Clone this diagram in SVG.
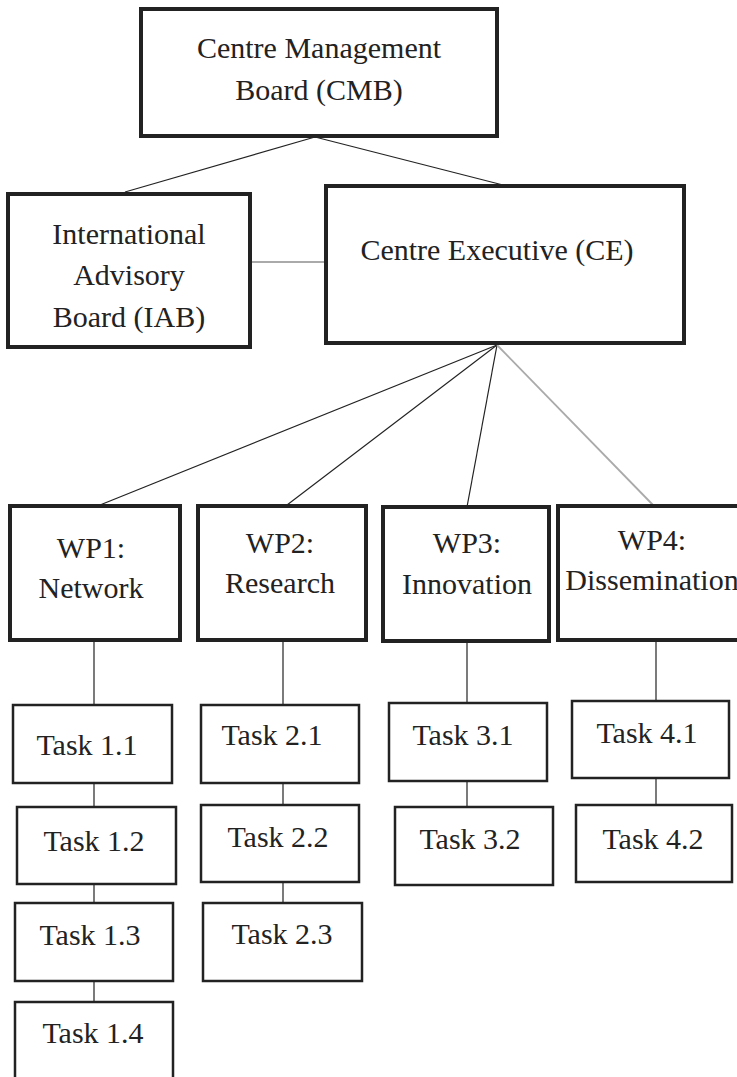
<svg xmlns="http://www.w3.org/2000/svg" width="737" height="1077" viewBox="0 0 737 1077">
<style>
  .bg{fill:#ffffff}
  .big{fill:#ffffff;stroke:#222;stroke-width:4}
  .task{fill:#ffffff;stroke:#222;stroke-width:2.5}
  .t{font-family:"Liberation Serif","Times New Roman",serif;font-size:30px;fill:#222;text-anchor:middle}
  .ln{stroke:#222;stroke-width:1.2;fill:none}
  .gl{stroke:#aaa;stroke-width:1.8;fill:none}
</style>
<rect class="bg" x="0" y="0" width="737" height="1077"/>
<g id="connectors">
  <line class="ln" x1="315" y1="137" x2="125" y2="192"/>
  <line class="ln" x1="315" y1="137" x2="503" y2="185"/>
  <line class="gl" x1="250" y1="262" x2="325" y2="262"/>
  <line class="ln" x1="497" y1="345" x2="100" y2="505"/>
  <line class="ln" x1="497" y1="345" x2="287" y2="505"/>
  <line class="ln" x1="497" y1="345" x2="467" y2="507"/>
  <line class="gl" x1="497" y1="345" x2="653" y2="505"/>
  <line class="ln" x1="94" y1="640" x2="94" y2="705"/>
  <line class="ln" x1="94" y1="783" x2="94" y2="807"/>
  <line class="ln" x1="94" y1="884" x2="94" y2="903"/>
  <line class="ln" x1="94" y1="981" x2="94" y2="1002"/>
  <line class="ln" x1="283" y1="640" x2="283" y2="705"/>
  <line class="ln" x1="283" y1="783" x2="283" y2="805"/>
  <line class="ln" x1="283" y1="882" x2="283" y2="903"/>
  <line class="ln" x1="467" y1="641" x2="467" y2="703"/>
  <line class="ln" x1="467" y1="781" x2="467" y2="807"/>
  <line class="ln" x1="656" y1="640" x2="656" y2="701"/>
  <line class="ln" x1="656" y1="778" x2="656" y2="805"/>
</g>
<g id="cmb">
  <rect class="big" x="141" y="9" width="356" height="127"/>
  <text class="t" x="319" y="58">Centre Management</text>
  <text class="t" x="319" y="100">Board (CMB)</text>
</g>
<g id="iab">
  <rect class="big" x="8" y="194" width="242" height="153"/>
  <text class="t" x="129" y="244">International</text>
  <text class="t" x="129" y="285">Advisory</text>
  <text class="t" x="129" y="327">Board (IAB)</text>
</g>
<g id="ce">
  <rect class="big" x="326" y="186" width="358" height="157"/>
  <text class="t" x="497" y="260">Centre Executive (CE)</text>
</g>
<g id="wp1">
  <rect class="big" x="10" y="506" width="170" height="134"/>
  <text class="t" x="91" y="558">WP1:</text>
  <text class="t" x="91" y="598">Network</text>
</g>
<g id="wp2">
  <rect class="big" x="198" y="506" width="168" height="134"/>
  <text class="t" x="280" y="553">WP2:</text>
  <text class="t" x="280" y="593">Research</text>
</g>
<g id="wp3">
  <rect class="big" x="383" y="507" width="166" height="134"/>
  <text class="t" x="467" y="553">WP3:</text>
  <text class="t" x="467" y="594">Innovation</text>
</g>
<g id="wp4">
  <rect class="big" x="558" y="506" width="200" height="134"/>
  <text class="t" x="652" y="550">WP4:</text>
  <text class="t" x="652" y="590">Dissemination</text>
</g>
<g id="task11">
  <rect class="task" x="13" y="705" width="159" height="78"/>
  <text class="t" x="87" y="755">Task 1.1</text>
</g>
<g id="task12">
  <rect class="task" x="17" y="807" width="159" height="77"/>
  <text class="t" x="94" y="851">Task 1.2</text>
</g>
<g id="task13">
  <rect class="task" x="15" y="903" width="158" height="78"/>
  <text class="t" x="90" y="945">Task 1.3</text>
</g>
<g id="task14">
  <rect class="task" x="15" y="1002" width="158" height="90"/>
  <text class="t" x="93" y="1043">Task 1.4</text>
</g>
<g id="task21">
  <rect class="task" x="201" y="705" width="158" height="78"/>
  <text class="t" x="272" y="745">Task 2.1</text>
</g>
<g id="task22">
  <rect class="task" x="201" y="805" width="158" height="77"/>
  <text class="t" x="278" y="847">Task 2.2</text>
</g>
<g id="task23">
  <rect class="task" x="203" y="903" width="159" height="78"/>
  <text class="t" x="282" y="944">Task 2.3</text>
</g>
<g id="task31">
  <rect class="task" x="389" y="703" width="158" height="78"/>
  <text class="t" x="463" y="745">Task 3.1</text>
</g>
<g id="task32">
  <rect class="task" x="395" y="807" width="158" height="78"/>
  <text class="t" x="470" y="849">Task 3.2</text>
</g>
<g id="task41">
  <rect class="task" x="572" y="701" width="157" height="77"/>
  <text class="t" x="647" y="743">Task 4.1</text>
</g>
<g id="task42">
  <rect class="task" x="576" y="805" width="156" height="77"/>
  <text class="t" x="653" y="849">Task 4.2</text>
</g>
</svg>
